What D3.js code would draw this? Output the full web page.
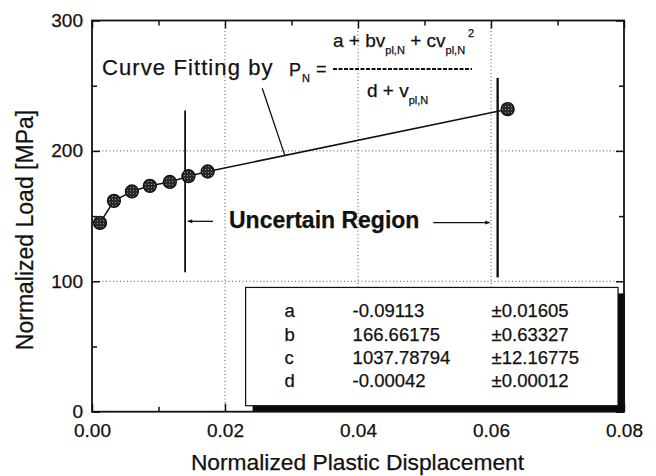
<!DOCTYPE html>
<html>
<head>
<meta charset="utf-8">
<script src="https://cdn.jsdelivr.net/npm/d3@7"></script>
<style>
  html, body { margin: 0; padding: 0; background: #fff; }
  svg { display: block; }
  text { font-family: "Liberation Sans", Arial, Helvetica, sans-serif; fill: #111; stroke: #111; stroke-width: 0.25px; }
</style>
</head>
<body>
<svg id="chart" width="656" height="476"></svg>
<script>
// Measured points: normalized plastic displacement vs normalized load
const dispValues = [0.0012, 0.0033, 0.0060, 0.0087, 0.0117, 0.0145, 0.0174, 0.0625];
const loadValues = [144.8, 161.7, 168.9, 173.2, 176.2, 180.6, 184.2, 232.0];

// Fit parameters of P_N = (a + b v + c v^2) / (d + v)
const paramNames  = ["a", "b", "c", "d"];
const paramValues = ["-0.09113", "166.66175", "1037.78794", "-0.00042"];
const paramErrors = ["\u00b10.01605", "\u00b10.63327", "\u00b112.16775", "\u00b10.00012"];

// Axis ticks
const xMajorTicks = [0, 0.02, 0.04, 0.06, 0.08];
const xMinorTicks = [0.01, 0.03, 0.05, 0.07];
const yMajorTicks = [0, 100, 200, 300];
const yMinorTicks = [50, 150, 250];
const xGridTicks = [0.02, 0.04, 0.06];
const yGridTicks = [100, 200];

// Uncertain region boundaries (displacement) and their vertical extents (load)
const regionBounds = [0.014, 0.061];
const regionLow = [107, 103];
const regionHigh = [231, 256];

const svg = d3.select("#chart");
const plotL = 92, plotR = 624, plotT = 20.5, plotB = 411.7;

const x = d3.scaleLinear().domain([0, 0.08]).range([plotL, plotR]);
const y = d3.scaleLinear().domain([0, 300]).range([plotB, plotT]);

// speckled marker fill
const defs = svg.append("defs");
const pat = defs.append("pattern").attr("id", "speckle")
  .attr("width", 3).attr("height", 3).attr("patternUnits", "userSpaceOnUse");
pat.append("rect").attr("width", 3).attr("height", 3).attr("fill", "#2a2a2a");
pat.append("rect").attr("x", 1).attr("y", 1).attr("width", 1).attr("height", 1).attr("fill", "#8c8c8c");

defs.append("marker").attr("id", "arrow")
  .attr("viewBox", "0 0 10 10").attr("refX", 9).attr("refY", 5)
  .attr("markerWidth", 7).attr("markerHeight", 5).attr("orient", "auto")
  .attr("markerUnits", "userSpaceOnUse")
  .append("path").attr("d", "M0,1 L10,5 L0,9 Z").attr("fill", "#111");

// dotted grid
const grid = svg.append("g").attr("stroke", "#555").attr("stroke-width", 1)
  .attr("stroke-dasharray", "1,2.5");
grid.selectAll("line.gx").data(xGridTicks).join("line").attr("class", "gx")
  .attr("x1", d => x(d)).attr("x2", d => x(d)).attr("y1", plotT).attr("y2", plotB);
grid.selectAll("line.gy").data(yGridTicks).join("line").attr("class", "gy")
  .attr("x1", plotL).attr("x2", plotR).attr("y1", d => y(d)).attr("y2", d => y(d));

// axes with inward ticks
function axisGroup(axis, tx, ty) {
  const g = svg.append("g").attr("transform", `translate(${tx},${ty})`).call(axis);
  g.select(".domain").remove();
  g.selectAll("line").attr("stroke", "#111").attr("stroke-width", 1.5);
  g.selectAll("text").attr("font-size", 19).attr("fill", "#111")
    .style("font-family", '"Liberation Sans", Arial, sans-serif');
  return g;
}
axisGroup(d3.axisBottom(x).tickValues(xMajorTicks).tickSize(-8).tickSizeOuter(0)
  .tickPadding(12).tickFormat(d3.format(".2f")), 0, plotB);
axisGroup(d3.axisBottom(x).tickValues(xMinorTicks).tickSize(-5).tickFormat(""), 0, plotB);
axisGroup(d3.axisTop(x).tickValues(xMajorTicks).tickSize(-8).tickFormat(""), 0, plotT);
axisGroup(d3.axisTop(x).tickValues(xMinorTicks).tickSize(-5).tickFormat(""), 0, plotT);
axisGroup(d3.axisLeft(y).tickValues(yMajorTicks).tickSize(-8).tickSizeOuter(0)
  .tickPadding(9).tickFormat(d3.format("d")), plotL, 0);
axisGroup(d3.axisLeft(y).tickValues(yMinorTicks).tickSize(-5).tickFormat(""), plotL, 0);
axisGroup(d3.axisRight(y).tickValues(yMajorTicks).tickSize(-8).tickFormat(""), plotR, 0);
axisGroup(d3.axisRight(y).tickValues(yMinorTicks).tickSize(-5).tickFormat(""), plotR, 0);

// parameter table with drop shadow
const box = { x0: 0.0231, x1: 0.0791, y0: 95.3, y1: 4.6 };
const bx = x(box.x0), by = y(box.y0), bw = x(box.x1) - x(box.x0), bh = y(box.y1) - y(box.y0);
svg.append("rect").attr("x", bx + 7).attr("y", by + 6).attr("width", bw).attr("height", bh)
  .attr("fill", "#0a0a0a");
svg.append("rect").attr("x", bx).attr("y", by).attr("width", bw).attr("height", bh)
  .attr("fill", "#fff").attr("stroke", "#111").attr("stroke-width", 1.2);

const rowY = i => by + 30 + i * 23.3;
const table = svg.append("g").attr("font-size", 18.5);
table.selectAll("text.n").data(paramNames).join("text").attr("class", "n")
  .attr("x", bx + 39).attr("y", (d, i) => rowY(i)).text(d => d);
table.selectAll("text.v").data(paramValues).join("text").attr("class", "v")
  .attr("x", bx + 107).attr("y", (d, i) => rowY(i)).text(d => d);
table.selectAll("text.e").data(paramErrors).join("text").attr("class", "e")
  .attr("x", bx + 246).attr("y", (d, i) => rowY(i)).text(d => d);

// frame
svg.append("rect").attr("x", plotL).attr("y", plotT).attr("width", plotR - plotL)
  .attr("height", plotB - plotT).attr("fill", "none").attr("stroke", "#111").attr("stroke-width", 1.8);

// uncertain region boundaries
svg.selectAll("line.region").data(regionBounds).join("line").attr("class", "region")
  .attr("x1", d => x(d)).attr("x2", d => x(d))
  .attr("y1", (d, i) => y(regionLow[i])).attr("y2", (d, i) => y(regionHigh[i]))
  .attr("stroke", "#111").attr("stroke-width", (d, i) => i === 0 ? 1.8 : 2.4);

// connecting line and markers
const pts = dispValues.map((d, i) => [d, loadValues[i]]);
svg.append("path").datum(pts)
  .attr("d", d3.line().x(d => x(d[0])).y(d => y(d[1])))
  .attr("fill", "none").attr("stroke", "#111").attr("stroke-width", 1.5);
svg.selectAll("circle.pt").data(pts).join("circle").attr("class", "pt")
  .attr("cx", d => x(d[0])).attr("cy", d => y(d[1])).attr("r", 6.5)
  .attr("fill", "url(#speckle)").attr("stroke", "#111").attr("stroke-width", 1.3);

// annotation: Curve Fitting label and leader
svg.append("text").attr("x", 102).attr("y", 75).attr("font-size", 22)
  .attr("letter-spacing", "1.1px").text("Curve Fitting by");
svg.append("line")
  .attr("x1", x(0.0256)).attr("y1", y(248)).attr("x2", x(0.029)).attr("y2", y(196.6))
  .attr("stroke", "#111").attr("stroke-width", 1.3);

// formula P_N = (a + b v + c v^2) / (d + v)
const pn = svg.append("text").attr("x", 289).attr("y", 76).attr("font-size", 18);
pn.append("tspan").text("P");
pn.append("tspan").attr("font-size", 11).attr("dy", 6).attr("dx", 1).text("N");
svg.append("text").attr("x", 316).attr("y", 75).attr("font-size", 18).text("=");

const num = svg.append("text").attr("x", 333).attr("y", 46.5).attr("font-size", 19);
num.append("tspan").text("a + bv");
num.append("tspan").attr("font-size", 11).attr("dy", 7).text("pl,N");
num.append("tspan").attr("dy", -7).text(" + cv");
num.append("tspan").attr("font-size", 11).attr("dy", 7).text("pl,N");
num.append("tspan").attr("font-size", 11).attr("dy", -17).attr("dx", 3).text("2");

svg.append("line").attr("x1", 333).attr("x2", 472).attr("y1", 69).attr("y2", 69)
  .attr("stroke", "#111").attr("stroke-width", 2).attr("stroke-dasharray", "4,1.5");

const den = svg.append("text").attr("x", 367).attr("y", 97).attr("font-size", 19);
den.append("tspan").text("d + v");
den.append("tspan").attr("font-size", 11).attr("dy", 7).text("pl,N");

// Uncertain Region label with arrows
svg.append("text").attr("x", x(0.0206)).attr("y", y(140.8))
  .attr("font-size", 23).attr("font-weight", "bold").text("Uncertain Region");
svg.append("line").attr("x1", x(0.0182)).attr("x2", x(0.0144))
  .attr("y1", y(146)).attr("y2", y(146))
  .attr("stroke", "#111").attr("stroke-width", 1.3).attr("marker-end", "url(#arrow)");
svg.append("line").attr("x1", x(0.0513)).attr("x2", x(0.0598))
  .attr("y1", y(145)).attr("y2", y(145))
  .attr("stroke", "#111").attr("stroke-width", 1.3).attr("marker-end", "url(#arrow)");

// axis titles
svg.append("text").attr("x", (plotL + plotR) / 2 - 0.5).attr("y", 470)
  .attr("text-anchor", "middle").attr("font-size", 22.8).text("Normalized Plastic Displacement");
svg.append("text").attr("transform", "translate(33,230) rotate(-90)")
  .attr("text-anchor", "middle").attr("font-size", 23).text("Normalized Load [MPa]");
</script>
</body>
</html>
